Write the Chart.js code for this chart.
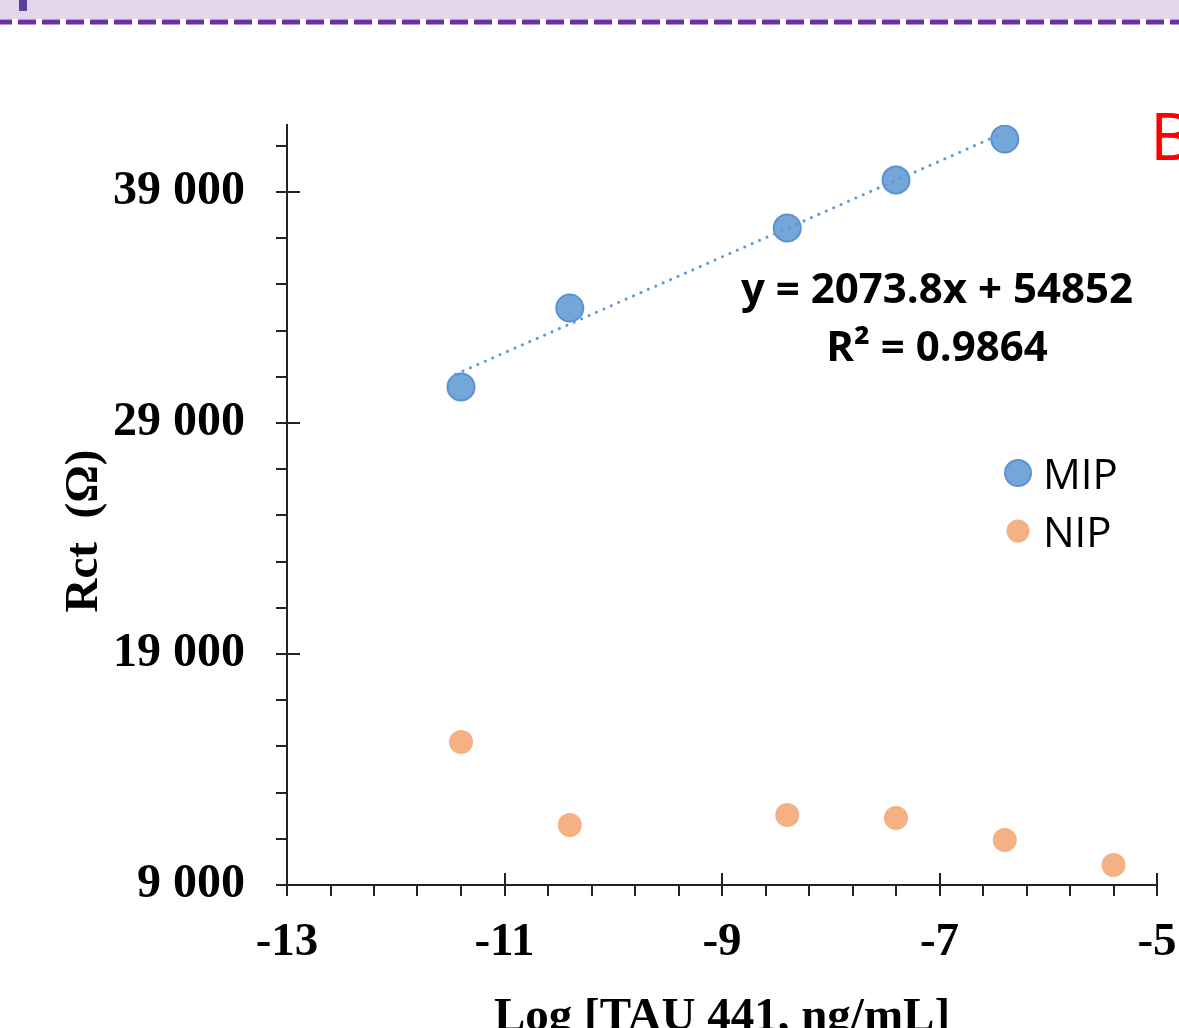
<!DOCTYPE html>
<html>
<head>
<meta charset="utf-8">
<title>Rct vs Log [TAU 441]</title>
<script src="https://cdn.jsdelivr.net/npm/chart.js"></script>
<style>
  html, body { margin: 0; padding: 0; background: #fff; }
  #wrap { width: 1179px; height: 1028px; position: relative; }
</style>
</head>
<body>
<div id="wrap"><canvas id="chart"></canvas></div>
<script>
// data
const mipX = [-11.4, -10.4, -8.4, -7.4, -6.4];
const mipY = [30560, 33980, 37440, 39520, 41290];
const nipX = [-11.4, -10.4, -8.4, -7.4, -6.4, -5.4];
const nipY = [15190, 11600, 12030, 11900, 10950, 9870];

// linear fit printed on the chart
const fitSlope = 2073.8;
const fitIntercept = 54852;
const fitRange = [-11.45, -6.45];

// axis ticks
const xLabelTicks = [-13, -11, -9, -7, -5];
const xMinorStep = 0.4;
const yLabelTicks = [9000, 19000, 29000, 39000];
const yMinorStep = 2000;

const seriesNames = ['MIP', 'NIP'];

function buildTicks(first, last, step) {
    const out = [];
    const n = Math.round((last - first) / step);
    for (let i = 0; i <= n; i++) out.push(Math.round((first + i * step) * 10) / 10);
    return out;
}
const xTicks = buildTicks(xLabelTicks[0], xLabelTicks[xLabelTicks.length - 1], xMinorStep);
const yTicks = buildTicks(yLabelTicks[0], 41000, yMinorStep);

function isLabelled(list, v) {
    return list.some(t => Math.abs(t - v) < 1e-6);
}

function spaced(v) {
    return String(v).replace(/\B(?=(\d{3})+(?!\d))/g, ' ');
}

const serif = '"Liberation Serif", "Times New Roman", serif';
const sans = '"Open Sans", "Liberation Sans", sans-serif';

// extra drawing: header band, tick marks, titles, equation, legend
const decorPlugin = {
    id: 'decor',
    beforeDraw(chart) {
        const ctx = chart.ctx;
        ctx.save();
        ctx.fillStyle = '#fff';
        ctx.fillRect(0, 0, chart.width, chart.height);
        ctx.fillStyle = '#E2D6EC';
        ctx.fillRect(0, 0, chart.width, 19);
        ctx.fillStyle = '#5E3B9E';
        ctx.fillRect(19, 0, 8, 11);
        ctx.strokeStyle = '#7030A0';
        ctx.lineWidth = 5;
        ctx.setLineDash([18, 6]);
        ctx.beginPath();
        ctx.moveTo(-6, 22);
        ctx.lineTo(chart.width, 22);
        ctx.stroke();
        ctx.restore();
    },
    afterDraw(chart) {
        const ctx = chart.ctx;
        const xs = chart.scales.x;
        const ys = chart.scales.y;
        const area = chart.chartArea;
        ctx.save();
        ctx.strokeStyle = '#222';
        ctx.lineWidth = 2;
        ctx.setLineDash([]);
        ctx.beginPath();
        xTicks.forEach(v => {
            const px = Math.round(xs.getPixelForValue(v));
            if (isLabelled(xLabelTicks, v)) {
                ctx.moveTo(px, area.bottom - 12);
                ctx.lineTo(px, area.bottom + 11);
            } else {
                ctx.moveTo(px, area.bottom);
                ctx.lineTo(px, area.bottom + 11);
            }
        });
        yTicks.forEach(v => {
            const py = Math.round(ys.getPixelForValue(v));
            if (isLabelled(yLabelTicks, v)) {
                ctx.moveTo(area.left - 11, py);
                ctx.lineTo(area.left + 13, py);
            } else {
                ctx.moveTo(area.left - 11, py);
                ctx.lineTo(area.left, py);
            }
        });
        ctx.stroke();

        // axis titles
        ctx.fillStyle = '#000';
        ctx.font = 'bold 47px ' + serif;
        ctx.textAlign = 'center';
        ctx.textBaseline = 'alphabetic';
        ctx.fillText('Log [TAU 441, ng/mL]', (area.left + area.right) / 2, 1030);
        ctx.save();
        ctx.translate(97, 531);
        ctx.rotate(-Math.PI / 2);
        ctx.fillText('Rct  (\u03A9)', 0, 0);
        ctx.restore();

        // fit equation
        ctx.font = 'bold 42px ' + sans;
        ctx.fillText('y = ' + fitSlope + 'x + ' + fitIntercept, 937, 303);
        ctx.fillText('R\u00B2 = 0.9864', 937, 361);

        // legend
        const rows = [{ds: chart.data.datasets[1], y: 473}, {ds: chart.data.datasets[2], y: 531}];
        ctx.textAlign = 'left';
        rows.forEach(r => {
            ctx.beginPath();
            ctx.arc(1018, r.y, r.ds.pointRadius - 0.5, 0, Math.PI * 2);
            ctx.fillStyle = r.ds.backgroundColor;
            ctx.fill();
            if (r.ds.borderWidth) {
                ctx.lineWidth = r.ds.borderWidth;
                ctx.strokeStyle = r.ds.borderColor;
                ctx.stroke();
            }
            ctx.fillStyle = '#000';
            ctx.font = '42px ' + sans;
            ctx.fillText(r.ds.label, 1043, r.y + 16);
        });

        // panel letter
        ctx.fillStyle = '#FF0000';
        ctx.font = '66px ' + sans;
        ctx.fillText('B', 1150, 160);
        ctx.restore();
    }
};

const ctx = document.getElementById('chart').getContext('2d');
new Chart(ctx, {
    type: 'scatter',
    data: {
        datasets: [
            {
                type: 'line',
                label: 'fit',
                data: fitRange.map(x => ({x: x, y: fitSlope * x + fitIntercept})),
                borderColor: '#5B9BD5',
                borderWidth: 3,
                borderDash: [0.1, 8],
                borderCapStyle: 'round',
                pointRadius: 0,
                fill: false,
                order: 0
            },
            {
                label: seriesNames[0],
                data: mipX.map((x, i) => ({x: x, y: mipY[i]})),
                backgroundColor: '#74A6DA',
                borderColor: '#5B93CF',
                borderWidth: 2,
                pointRadius: 13.5,
                order: 1
            },
            {
                label: seriesNames[1],
                data: nipX.map((x, i) => ({x: x, y: nipY[i]})),
                backgroundColor: '#F4B183',
                borderColor: '#F4B183',
                borderWidth: 0,
                pointRadius: 12,
                order: 2
            }
        ]
    },
    options: {
        responsive: true,
        maintainAspectRatio: false,
        animation: false,
        devicePixelRatio: 1,
        layout: { padding: { top: 125, right: 22, left: 0, bottom: 0 } },
        plugins: {
            legend: { display: false },
            tooltip: { enabled: false },
            title: { display: false }
        },
        scales: {
            x: {
                type: 'linear',
                min: -13,
                max: -5,
                grid: { display: false },
                border: { display: true, color: '#222', width: 2 },
                afterBuildTicks: scale => { scale.ticks = xTicks.map(v => ({value: v})); },
                afterFit: scale => {
                    scale.height = 143;
                    scale.paddingLeft = 0;
                    scale.paddingRight = 0;
                },
                ticks: {
                    autoSkip: false,
                    maxRotation: 0,
                    padding: 22,
                    color: '#000',
                    font: { family: serif, size: 47, weight: 'bold' },
                    callback: v => isLabelled(xLabelTicks, v) ? String(Math.round(v)) : ''
                }
            },
            y: {
                type: 'linear',
                min: 9000,
                max: 41900,
                grid: { display: false },
                border: { display: true, color: '#222', width: 2 },
                afterBuildTicks: scale => { scale.ticks = yTicks.map(v => ({value: v})); },
                afterFit: scale => {
                    scale.width = 287;
                    scale.paddingTop = 0;
                    scale.paddingBottom = 0;
                },
                ticks: {
                    autoSkip: false,
                    padding: 34,
                    color: '#000',
                    font: { family: serif, size: 48, weight: 'bold' },
                    callback: v => isLabelled(yLabelTicks, v) ? spaced(v) : ''
                }
            }
        }
    },
    plugins: [decorPlugin]
});
</script>
</body>
</html>
